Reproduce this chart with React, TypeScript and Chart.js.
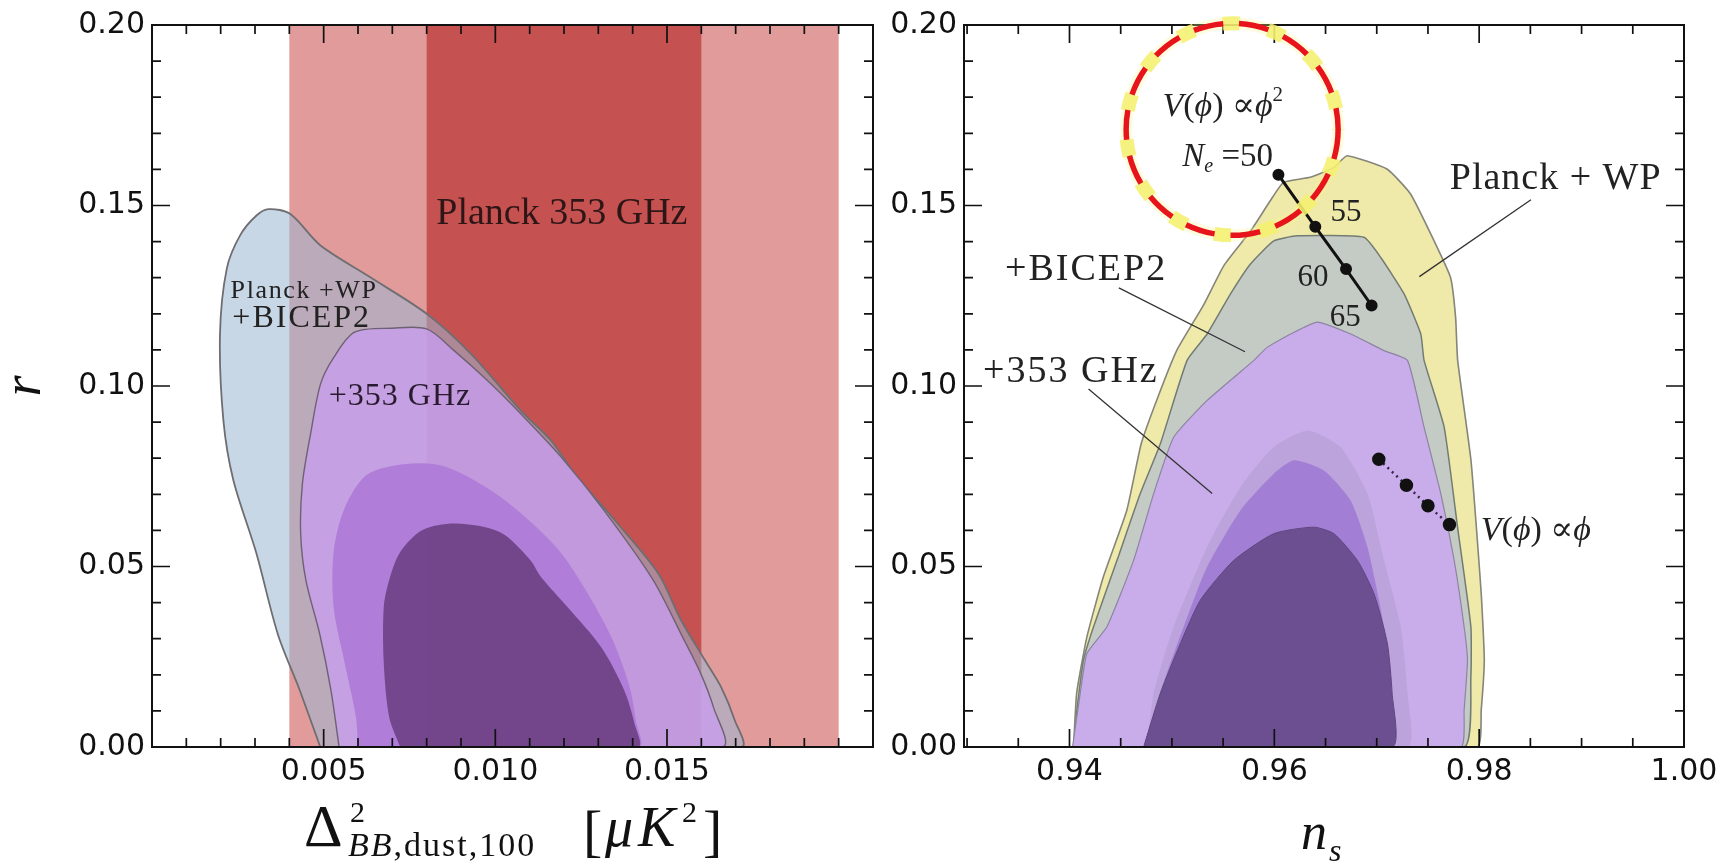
import React, { useEffect, useRef } from "react";
import { Chart, registerables } from "chart.js";

Chart.register(...registerables);

/* ---------------- axes ---------------- */
const Y_RANGE = [0, 0.2];
const Y_TICKS = [0, 0.05, 0.1, 0.15, 0.2];
const Y_TICK_LABELS = ["0.00", "0.05", "0.10", "0.15", "0.20"];
const LEFT_X_RANGE = [0, 0.021];
const LEFT_X_TICKS = [0.005, 0.01, 0.015];
const LEFT_X_TICK_LABELS = ["0.005", "0.010", "0.015"];
const RIGHT_X_RANGE = [0.9297, 1.0];
const RIGHT_X_TICKS = [0.94, 0.96, 0.98, 1.0];
const RIGHT_X_TICK_LABELS = ["0.94", "0.96", "0.98", "1.00"];
const LEFT_X_MINOR = 0.001;
const RIGHT_X_MINOR = 0.005;
const Y_MINOR = 0.01;

/* ------------- Planck 353 GHz bands (left) ------------- */
const BAND_WIDE = [0.004, 0.02];
const BAND_NARROW = [0.008, 0.016];

/* ------------- left panel contours ------------- */
const L_OUTER_X = [0.0049, 0.0043, 0.00367, 0.00303, 0.00237, 0.00208, 0.00198, 0.00218, 0.00257, 0.00305, 0.0034, 0.00402, 0.0049, 0.00636, 0.008, 0.00929, 0.01074, 0.01162, 0.01231, 0.01356, 0.01475, 0.01541, 0.0161, 0.01657, 0.01697, 0.01716];
const L_OUTER_Y = [0, 0.0158, 0.0311, 0.054, 0.0739, 0.0904, 0.1143, 0.1326, 0.1418, 0.1473, 0.149, 0.1477, 0.139, 0.1301, 0.12, 0.1089, 0.0932, 0.0849, 0.0757, 0.0619, 0.048, 0.0351, 0.0241, 0.0167, 0.0075, 0];
const L_LIGHT_X = [0.00545, 0.00521, 0.00489, 0.00448, 0.00433, 0.00438, 0.00462, 0.00491, 0.0053, 0.0059, 0.007, 0.008, 0.0088, 0.00977, 0.01074, 0.0119, 0.01317, 0.01458, 0.0155, 0.01598, 0.01635, 0.0166];
const L_LIGHT_Y = [0, 0.0158, 0.0311, 0.0463, 0.0591, 0.0729, 0.0868, 0.1006, 0.108, 0.1149, 0.116, 0.1158, 0.1098, 0.1015, 0.0923, 0.0805, 0.0655, 0.0465, 0.0296, 0.0204, 0.0111, 0];
const L_MED_X = [0.006, 0.00594, 0.00561, 0.00529, 0.00529, 0.00561, 0.00626, 0.00739, 0.00853, 0.01014, 0.01176, 0.0126, 0.0134, 0.0139, 0.0141, 0.01418];
const L_MED_Y = [0, 0.0082, 0.0234, 0.0387, 0.054, 0.0662, 0.0754, 0.0784, 0.0777, 0.0693, 0.0555, 0.044, 0.03, 0.017, 0.007, 0];
const L_DARK_X = [0.00723, 0.00691, 0.00675, 0.00675, 0.00691, 0.00723, 0.00788, 0.00885, 0.01014, 0.011, 0.01133, 0.0121, 0.01308, 0.01375, 0.01405, 0.01415];
const L_DARK_Y = [0, 0.0082, 0.0234, 0.0387, 0.0463, 0.054, 0.0601, 0.0619, 0.0595, 0.052, 0.0471, 0.0388, 0.0277, 0.0158, 0.0066, 0];

/* ------------- right panel contours ------------- */
const R_YELLOW_X = [0.9404, 0.9407, 0.9417, 0.9433, 0.9456, 0.947, 0.9486, 0.9505, 0.9531, 0.9551, 0.9577, 0.9596, 0.9609, 0.9635, 0.9658, 0.9671, 0.971, 0.9733, 0.9756, 0.9772, 0.9777, 0.9779, 0.9792, 0.9802, 0.9805, 0.9802, 0.9798];
const R_YELLOW_Y = [0, 0.0149, 0.0305, 0.0471, 0.0656, 0.084, 0.0967, 0.11, 0.1225, 0.1335, 0.143, 0.1513, 0.1564, 0.1578, 0.1605, 0.1638, 0.1601, 0.1532, 0.1402, 0.1301, 0.119, 0.1071, 0.0794, 0.0425, 0.0241, 0.0102, 0];
const R_GRAY_X = [0.94055, 0.94072, 0.94137, 0.94235, 0.94464, 0.94691, 0.94887, 0.95148, 0.95344, 0.95572, 0.95767, 0.95995, 0.96224, 0.96875, 0.97039, 0.97267, 0.9743, 0.97462, 0.97658, 0.97789, 0.97919, 0.97919, 0.97853];
const R_GRAY_Y = [0, 0.0102, 0.0241, 0.0333, 0.0517, 0.0702, 0.084, 0.1071, 0.1144, 0.1255, 0.1338, 0.1402, 0.1416, 0.1412, 0.1356, 0.1255, 0.1144, 0.1071, 0.0886, 0.0609, 0.0333, 0.0195, 0];
const R_LIGHT_X = [0.9403, 0.94105, 0.9417, 0.94366, 0.94626, 0.94822, 0.95017, 0.95344, 0.958, 0.9593, 0.96159, 0.9642, 0.96746, 0.97071, 0.973, 0.97462, 0.97625, 0.97756, 0.97853, 0.97886, 0.97853, 0.9782];
const R_LIGHT_Y = [0, 0.0149, 0.0259, 0.0333, 0.0517, 0.0702, 0.0858, 0.096, 0.1071, 0.1107, 0.1144, 0.1177, 0.1144, 0.1098, 0.1071, 0.0886, 0.0702, 0.0517, 0.0333, 0.0241, 0.0102, 0];
const R_MAUVE_X = [0.94757, 0.94822, 0.95017, 0.95344, 0.9567, 0.95995, 0.96322, 0.96647, 0.96909, 0.97071, 0.97234, 0.973, 0.973];
const R_MAUVE_Y = [0, 0.0149, 0.0333, 0.0554, 0.072, 0.0831, 0.0877, 0.0831, 0.0702, 0.0517, 0.0333, 0.0149, 0];
const R_MED_X = [0.9479, 0.94887, 0.95115, 0.95344, 0.9567, 0.95995, 0.96191, 0.96484, 0.96745, 0.96909, 0.97071, 0.97136, 0.97136];
const R_MED_Y = [0, 0.0149, 0.0333, 0.0499, 0.0656, 0.0757, 0.0794, 0.0766, 0.0683, 0.0554, 0.0333, 0.0149, 0];
const R_DARK_X = [0.94724, 0.94887, 0.95083, 0.95278, 0.95604, 0.95995, 0.96386, 0.96582, 0.96811, 0.96973, 0.97104, 0.9715, 0.9715];
const R_DARK_Y = [0, 0.0149, 0.0287, 0.0407, 0.0517, 0.0591, 0.0609, 0.0591, 0.0517, 0.0425, 0.0287, 0.0149, 0];

/* ------------- inflation models (right) ------------- */
const PHI2_NS = [0.9604, 0.964, 0.967, 0.9695];
const PHI2_R = [0.1585, 0.1441, 0.1324, 0.1223];
const PHI1_NS = [0.9702, 0.9729, 0.975, 0.9771];
const PHI1_R = [0.0797, 0.0725, 0.0668, 0.0616];

/* ------------- annotation text ------------- */
const LEFT_LABELS = [
  { text: "Planck 353 GHz", x: 0.00828, y: 0.1448, size: 38, ls: 0, color: "#2e1616" },
  { text: "Planck +WP", x: 0.00229, y: 0.1245, size: 26, ls: 1.6, color: "#222" },
  { text: "+BICEP2", x: 0.00234, y: 0.1163, size: 32, ls: 2, color: "#222" },
  { text: "+353 GHz", x: 0.00515, y: 0.0946, size: 32, ls: 1, color: "#2a1a30" },
];
const RIGHT_LABELS = [
  { text: "Planck + WP", x: 0.97713, y: 0.1546, size: 38, ls: 1, color: "#222" },
  { text: "+BICEP2", x: 0.93371, y: 0.1295, size: 38, ls: 2, color: "#222" },
  { text: "+353 GHz", x: 0.93156, y: 0.1012, size: 38, ls: 2, color: "#222" },
  { text: "55", x: 0.96549, y: 0.1458, size: 31, ls: 0, color: "#222" },
  { text: "60", x: 0.96227, y: 0.1278, size: 31, ls: 0, color: "#222" },
  { text: "65", x: 0.9654, y: 0.1167, size: 31, ls: 0, color: "#222" },
];
const LEADERS = [
  { from: [0.98506, 0.1516], to: [0.97416, 0.1303] },
  { from: [0.94482, 0.1272], to: [0.95714, 0.1095] },
  { from: [0.94186, 0.0992], to: [0.95393, 0.0702] },
];
const PHI2_LABEL_POS = [0.94908, 0.1748];
const NE_LABEL_POS = [0.95102, 0.161];
const PHI1_LABEL_POS = [0.98016, 0.0573];
const CIRCLE_CENTER = [0.95588, 0.1711];
const CIRCLE_RADIUS_PX = 106;

/* ---------------- helpers ---------------- */
const SERIF = "'Liberation Serif', 'DejaVu Serif', serif";
const SANS = "'DejaVu Sans', 'Liberation Sans', sans-serif";

function closed(xs: number[], ys: number[]) {
  const pts = xs.map((x, i) => ({ x, y: ys[i] }));
  pts.push({ x: xs[0], y: ys[0] });
  return pts;
}

function region(xs: number[], ys: number[], fill: string, stroke: string, width: number, tension: number) {
  return {
    data: closed(xs, ys),
    showLine: true,
    fill: "shape",
    backgroundColor: fill,
    borderColor: stroke,
    borderWidth: width,
    pointRadius: 0,
    pointHoverRadius: 0,
    pointHitRadius: 0,
    tension,
    borderJoinStyle: "round",
  };
}

function stackOrder(list: any[]) {
  return list.map((d, i) => ({ ...d, order: list.length - i }));
}

function labelFor(ticks: number[], labels: string[]) {
  return (v: number) => {
    const i = ticks.findIndex((t) => Math.abs(t - v) < 1e-9);
    return i >= 0 ? labels[i] : "";
  };
}

function scalesFor(xRange: number[], xTicks: number[], xLabels: string[], yWidth: number) {
  const font = { family: SANS, size: 30 };
  return {
    x: {
      type: "linear",
      min: xRange[0],
      max: xRange[1],
      grid: { display: false, drawTicks: false },
      border: { display: false },
      ticks: { font, color: "#111", padding: 7, maxRotation: 0, autoSkip: false, callback: labelFor(xTicks, xLabels) },
      afterBuildTicks: (s: any) => {
        s.ticks = xTicks.map((value) => ({ value }));
      },
      afterFit: (s: any) => {
        s.height = 117;
      },
    },
    y: {
      type: "linear",
      min: Y_RANGE[0],
      max: Y_RANGE[1],
      grid: { display: false, drawTicks: false },
      border: { display: false },
      ticks: { font, color: "#111", padding: 7, autoSkip: false, callback: labelFor(Y_TICKS, Y_TICK_LABELS) },
      afterBuildTicks: (s: any) => {
        s.ticks = Y_TICKS.map((value) => ({ value }));
      },
      afterFit: (s: any) => {
        s.width = yWidth;
      },
    },
  };
}

function framePlugin(xMinor: number, xMajor: number[]) {
  return {
    id: "frame",
    afterDatasetsDraw(chart: any) {
      const { ctx, chartArea: a, scales } = chart;
      const xs = scales.x;
      const ys = scales.y;
      ctx.save();
      ctx.strokeStyle = "#111";
      ctx.lineWidth = 1.7;
      ctx.beginPath();
      const i0 = Math.ceil(xs.min / xMinor - 1e-6);
      const i1 = Math.floor(xs.max / xMinor + 1e-6);
      for (let i = i0; i <= i1; i++) {
        const v = i * xMinor;
        const px = xs.getPixelForValue(v);
        if (px <= a.left + 1 || px >= a.right - 1) continue;
        const major = xMajor.some((t) => Math.abs(t - v) < 1e-7);
        const len = major ? 18 : 9;
        ctx.moveTo(px, a.bottom);
        ctx.lineTo(px, a.bottom - len);
        ctx.moveTo(px, a.top);
        ctx.lineTo(px, a.top + len);
      }
      const j1 = Math.round((ys.max - ys.min) / Y_MINOR);
      for (let j = 0; j <= j1; j++) {
        const v = ys.min + j * Y_MINOR;
        const py = ys.getPixelForValue(v);
        if (py <= a.top + 1 || py >= a.bottom - 1) continue;
        const major = Y_TICKS.some((t) => Math.abs(t - v) < 1e-7);
        const len = major ? 18 : 9;
        ctx.moveTo(a.left, py);
        ctx.lineTo(a.left + len, py);
        ctx.moveTo(a.right, py);
        ctx.lineTo(a.right - len, py);
      }
      ctx.stroke();
      ctx.lineWidth = 2;
      ctx.strokeRect(a.left, a.top, a.right - a.left, a.bottom - a.top);
      ctx.restore();
    },
  };
}

type Seg = { t: string; size: number; italic?: boolean; x?: number; dy?: number };

function drawSegs(ctx: any, x: number, y: number, segs: Seg[]) {
  let cx = x;
  for (const s of segs) {
    ctx.font = `${s.italic ? "italic " : ""}${s.size}px ${SERIF}`;
    const px = s.x !== undefined ? x + s.x : cx;
    ctx.fillText(s.t, px, y + (s.dy || 0));
    cx = px + ctx.measureText(s.t).width;
  }
}

function drawLabels(ctx: any, xs: any, ys: any, labels: any[]) {
  ctx.textAlign = "left";
  ctx.textBaseline = "alphabetic";
  for (const l of labels) {
    ctx.fillStyle = l.color;
    ctx.font = `${l.size}px ${SERIF}`;
    ctx.letterSpacing = `${l.ls}px`;
    ctx.fillText(l.text, xs.getPixelForValue(l.x), ys.getPixelForValue(l.y));
  }
  ctx.letterSpacing = "0px";
}

const leftDecor = {
  id: "leftDecor",
  afterDraw(chart: any) {
    const { ctx, chartArea: a, scales } = chart;
    const xs = scales.x;
    const ys = scales.y;
    ctx.save();
    drawLabels(ctx, xs, ys, LEFT_LABELS);
    ctx.fillStyle = "#111";
    // x title: Delta^2_{BB,dust,100} [muK^2]
    const X0 = a.left + 152;
    const yB = a.bottom + 99;
    drawSegs(ctx, X0, yB, [{ t: "\u0394", size: 60 }]);
    drawSegs(ctx, X0, yB, [{ t: "2", size: 30, x: 46, dy: -24 }]);
    ctx.letterSpacing = "2px";
    drawSegs(ctx, X0, yB, [
      { t: "BB", size: 34, italic: true, x: 44, dy: 10 },
      { t: ",dust,100", size: 34, dy: 10 },
    ]);
    ctx.letterSpacing = "0px";
    drawSegs(ctx, X0, yB, [
      { t: "[", size: 58, x: 279, dy: 4 },
      { t: "\u03bc", size: 56, italic: true, x: 301 },
      { t: "K", size: 56, italic: true, x: 334 },
      { t: "2", size: 30, x: 378, dy: -24 },
      { t: "]", size: 58, x: 399, dy: 4 },
    ]);
    // y title r
    ctx.save();
    ctx.translate(a.left - 112, (a.top + a.bottom) / 2);
    ctx.rotate(-Math.PI / 2);
    ctx.textAlign = "center";
    ctx.font = `italic 54px ${SERIF}`;
    ctx.fillText("r", 0, 0);
    ctx.restore();
    ctx.restore();
  },
};

const rightDecor = {
  id: "rightDecor",
  afterDraw(chart: any) {
    const { ctx, chartArea: a, scales } = chart;
    const xs = scales.x;
    const ys = scales.y;
    const P = (p: number[]) => [xs.getPixelForValue(p[0]), ys.getPixelForValue(p[1])];
    ctx.save();
    // leader lines
    ctx.strokeStyle = "#333";
    ctx.lineWidth = 1.3;
    ctx.beginPath();
    for (const l of LEADERS) {
      const f = P(l.from);
      const t = P(l.to);
      ctx.moveTo(f[0], f[1]);
      ctx.lineTo(t[0], t[1]);
    }
    ctx.stroke();
    drawLabels(ctx, xs, ys, RIGHT_LABELS);
    ctx.fillStyle = "#222";
    // V(phi) ∝ phi^2
    const p2 = P(PHI2_LABEL_POS);
    drawSegs(ctx, p2[0], p2[1], [
      { t: "V", size: 34, italic: true },
      { t: "(", size: 34 },
      { t: "\u03d5", size: 34, italic: true },
      { t: ")", size: 34 },
      { t: " \u221d", size: 34 },
      { t: "\u03d5", size: 34, italic: true },
      { t: "2", size: 21, dy: -15 },
    ]);
    const ne = P(NE_LABEL_POS);
    drawSegs(ctx, ne[0], ne[1], [
      { t: "N", size: 33, italic: true },
      { t: "e", size: 20, italic: true, dy: 6 },
      { t: " =50", size: 33 },
    ]);
    const p1 = P(PHI1_LABEL_POS);
    drawSegs(ctx, p1[0], p1[1], [
      { t: "V", size: 34, italic: true },
      { t: "(", size: 34 },
      { t: "\u03d5", size: 34, italic: true },
      { t: ")", size: 34 },
      { t: " \u221d", size: 34 },
      { t: "\u03d5", size: 34, italic: true },
    ]);
    // x title n_s
    ctx.fillStyle = "#111";
    drawSegs(ctx, a.left + 337, a.bottom + 102, [
      { t: "n", size: 52, italic: true },
      { t: "s", size: 32, italic: true, x: 28, dy: 12 },
    ]);
    // highlight circle
    const c = P(CIRCLE_CENTER);
    const R = CIRCLE_RADIUS_PX;
    ctx.beginPath();
    ctx.arc(c[0], c[1], R, 0, Math.PI * 2);
    ctx.setLineDash([]);
    ctx.lineWidth = 12;
    ctx.strokeStyle = "rgba(248,244,150,0.3)";
    ctx.stroke();
    ctx.setLineDash([17, 29]);
    ctx.lineDashOffset = -29.5;
    ctx.lineWidth = 14;
    ctx.strokeStyle = "rgba(244,240,110,0.85)";
    ctx.stroke();
    ctx.setLineDash([30, 16]);
    ctx.lineDashOffset = 0;
    ctx.lineWidth = 5.5;
    ctx.strokeStyle = "#e8141c";
    ctx.stroke();
    ctx.restore();
  },
};

function leftConfig() {
  const rect = (b: number[]) => closed([b[0], b[0], b[1], b[1]], [Y_RANGE[0], Y_RANGE[1], Y_RANGE[1], Y_RANGE[0]]);
  const datasets = stackOrder([
    { data: rect(BAND_WIDE), showLine: true, fill: "shape", backgroundColor: "#e29b9b", borderWidth: 0, borderColor: "rgba(0,0,0,0)", pointRadius: 0 },
    { data: rect(BAND_NARROW), showLine: true, fill: "shape", backgroundColor: "#c65151", borderWidth: 0, borderColor: "rgba(0,0,0,0)", pointRadius: 0 },
    region(L_OUTER_X, L_OUTER_Y, "rgba(155,182,210,0.55)", "#6e6e72", 1.8, 0.3),
    region(L_LIGHT_X, L_LIGHT_Y, "rgba(199,158,235,0.82)", "#6d6275", 1.4, 0.3),
    region(L_MED_X, L_MED_Y, "rgba(173,121,215,0.88)", "rgba(0,0,0,0)", 0, 0.3),
    region(L_DARK_X, L_DARK_Y, "rgba(109,64,132,0.9)", "rgba(0,0,0,0)", 0, 0.3),
  ]);
  return {
    type: "scatter",
    data: { datasets },
    options: {
      responsive: false,
      animation: false,
      events: [],
      layout: { padding: { top: 24, right: 7, left: 0, bottom: 0 } },
      plugins: { legend: { display: false }, tooltip: { enabled: false } },
      scales: scalesFor(LEFT_X_RANGE, LEFT_X_TICKS, LEFT_X_TICK_LABELS, 152),
    },
    plugins: [framePlugin(LEFT_X_MINOR, LEFT_X_TICKS), leftDecor],
  };
}

function rightConfig() {
  const pts = (xs: number[], ys: number[]) => xs.map((x, i) => ({ x, y: ys[i] }));
  const datasets = stackOrder([
    region(R_YELLOW_X, R_YELLOW_Y, "#efeaa9", "#85857a", 1.6, 0.15),
    region(R_GRAY_X, R_GRAY_Y, "#c4cbc5", "#727c74", 1.5, 0.15),
    region(R_LIGHT_X, R_LIGHT_Y, "#c9adea", "#8c84a0", 1.2, 0.15),
    region(R_MAUVE_X, R_MAUVE_Y, "#bca3dc", "rgba(0,0,0,0)", 0, 0.2),
    region(R_MED_X, R_MED_Y, "#a27fd5", "rgba(0,0,0,0)", 0, 0.2),
    region(R_DARK_X, R_DARK_Y, "#6c4f91", "#5f4680", 1, 0.2),
    {
      data: pts(PHI1_NS, PHI1_R),
      showLine: true,
      borderColor: "#3a2448",
      borderWidth: 2.5,
      borderDash: [2, 4],
      pointRadius: 5.5,
      pointBackgroundColor: "#111",
      pointBorderColor: "#111",
      fill: false,
    },
    {
      data: pts(PHI2_NS, PHI2_R),
      showLine: true,
      borderColor: "#111",
      borderWidth: 3,
      pointRadius: 4.5,
      pointBackgroundColor: "#111",
      pointBorderColor: "#111",
      fill: false,
    },
  ]);
  return {
    type: "scatter",
    data: { datasets },
    options: {
      responsive: false,
      animation: false,
      events: [],
      layout: { padding: { top: 24, right: 52, left: 0, bottom: 0 } },
      plugins: { legend: { display: false }, tooltip: { enabled: false } },
      scales: scalesFor(RIGHT_X_RANGE, RIGHT_X_TICKS, RIGHT_X_TICK_LABELS, 84),
    },
    plugins: [framePlugin(RIGHT_X_MINOR, RIGHT_X_TICKS), rightDecor],
  };
}

export default function App() {
  const leftRef = useRef<HTMLCanvasElement | null>(null);
  const rightRef = useRef<HTMLCanvasElement | null>(null);
  useEffect(() => {
    const l = new Chart(leftRef.current as HTMLCanvasElement, leftConfig() as any);
    const r = new Chart(rightRef.current as HTMLCanvasElement, rightConfig() as any);
    return () => {
      l.destroy();
      r.destroy();
    };
  }, []);
  return (
    <div style={{ position: "fixed", left: 0, top: 0, width: 1736, height: 864, background: "#fff", overflow: "hidden" }}>
      <canvas ref={leftRef} width={880} height={864} style={{ position: "absolute", left: 0, top: 0, width: 880, height: 864 }} />
      <canvas ref={rightRef} width={856} height={864} style={{ position: "absolute", left: 880, top: 0, width: 856, height: 864 }} />
    </div>
  );
}
